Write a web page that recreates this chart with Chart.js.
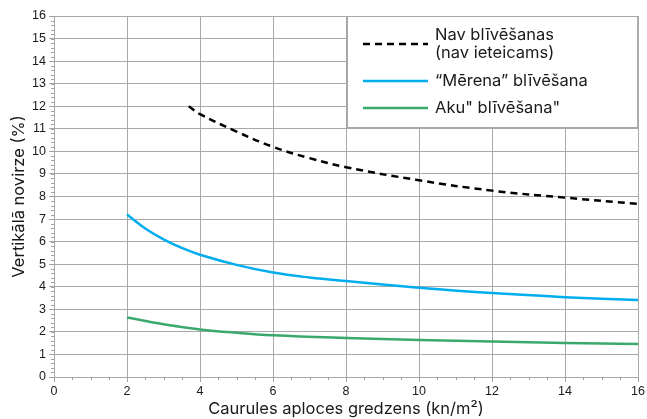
<!DOCTYPE html>
<html>
<head>
<meta charset="utf-8">
<script src="https://cdn.jsdelivr.net/npm/chart.js@4"></script>
<style>
  html, body { margin: 0; padding: 0; background: #fff; }
  #wrap { width: 647px; height: 419px; }
</style>
</head>
<body>
<div id="wrap"><canvas id="myChart"></canvas></div>
<script>
// values
const labels = ['Nav blīvēšanas\n(nav ieteicams)', '“Mērena” blīvēšana', 'Aku" blīvēšana"'];
const xNone = [3.69, 4, 5, 6, 7, 8, 10, 12, 14, 16];
const yNone = [12.0, 11.65, 10.88, 10.2, 9.7, 9.3, 8.72, 8.26, 7.95, 7.67];
const xMid = [2, 2.5, 3, 3.5, 4, 5, 6, 7, 8, 10, 12, 14, 16];
const yMid = [7.2, 6.58, 6.1, 5.72, 5.42, 4.97, 4.63, 4.41, 4.25, 3.96, 3.72, 3.54, 3.41];
const xFull = [2, 3, 4, 5, 6, 8, 10, 12, 14, 16];
const yFull = [2.64, 2.34, 2.11, 1.96, 1.85, 1.73, 1.64, 1.57, 1.51, 1.46];
const xTitle = 'Caurules aploces gredzens (kn/m²)';
const yTitle = 'Vertikālā novirze (%)';

function pts(xs, ys) {
    return xs.map((x, i) => ({ x: x, y: ys[i] }));
}

const gridCol = '#a8a8a8';
const titleFont = 'Inter, "Noto Sans", sans-serif';
const tickFont = '"Liberation Sans", Arial, sans-serif';

// small ticks between the labelled ones
const minorTicks = {
    id: 'minorTicks',
    afterDraw(chart) {
        const ctx = chart.ctx;
        const xs = chart.scales.x, ys = chart.scales.y;
        ctx.save();
        ctx.strokeStyle = '#a0a0a0';
        ctx.lineWidth = 1;
        ctx.beginPath();
        for (let v = 0; v <= 16.001; v += 0.2) {
            const py = Math.round(ys.getPixelForValue(v)) + 0.5;
            ctx.moveTo(xs.left - 3, py);
            ctx.lineTo(xs.left, py);
        }
        for (let v = 0; v <= 16.001; v += 0.5) {
            const px = Math.round(xs.getPixelForValue(v)) + 0.5;
            ctx.moveTo(px, ys.bottom);
            ctx.lineTo(px, ys.bottom + 3);
        }
        ctx.stroke();
        ctx.restore();
    }
};

// legend box inside the plot, top right
const boxLegend = {
    id: 'boxLegend',
    afterDraw(chart) {
        const ctx = chart.ctx;
        const area = chart.chartArea;
        const x0 = 347, y0 = area.top, x1 = area.right, y1 = 128;
        ctx.save();
        ctx.fillStyle = '#fff';
        ctx.fillRect(x0, y0, x1 - x0, y1 - y0);
        ctx.strokeStyle = gridCol;
        ctx.lineWidth = 1;
        ctx.strokeRect(x0 + 0.5, y0 + 0.5, x1 - x0 - 1, y1 - y0 - 1);
        const rows = [44, 81, 108];
        ctx.font = '16.5px ' + titleFont;
        ctx.textBaseline = 'middle';
        chart.data.datasets.forEach((ds, i) => {
            const y = rows[i];
            ctx.beginPath();
            ctx.strokeStyle = ds.borderColor;
            ctx.lineWidth = ds.borderWidth;
            ctx.setLineDash(ds.borderDash || []);
            ctx.moveTo(363, y);
            ctx.lineTo(428, y);
            ctx.stroke();
            ctx.setLineDash([]);
            ctx.fillStyle = '#1a1a1a';
            const lines = ds.label.split('\n');
            lines.forEach((t, j) => {
                const ty = y + (j - (lines.length - 1) / 2) * 18;
                ctx.fillText(t, 435, ty);
            });
        });
        ctx.restore();
    }
};

const chart = new Chart(document.getElementById('myChart').getContext('2d'), {
    type: 'line',
    data: {
        datasets: [{
            label: labels[0],
            data: pts(xNone, yNone),
            borderColor: '#000000',
            borderWidth: 2.5,
            borderDash: [7, 5],
            pointRadius: 0,
            tension: 0.4,
            fill: false
        }, {
            label: labels[1],
            data: pts(xMid, yMid),
            borderColor: '#00adef',
            borderWidth: 2.5,
            pointRadius: 0,
            tension: 0.4,
            fill: false
        }, {
            label: labels[2],
            data: pts(xFull, yFull),
            borderColor: '#3aaa6c',
            borderWidth: 2.5,
            pointRadius: 0,
            tension: 0.4,
            fill: false
        }]
    },
    options: {
        responsive: true,
        maintainAspectRatio: false,
        animation: false,
        layout: { padding: { top: 16, right: 8, left: 0, bottom: 0 } },
        plugins: {
            legend: { display: false },
            tooltip: { enabled: false }
        },
        scales: {
            x: {
                type: 'linear',
                min: 0,
                max: 16,
                ticks: {
                    stepSize: 2,
                    color: '#1a1a1a',
                    padding: 2,
                    font: { family: tickFont, size: 12.5 }
                },
                grid: { color: gridCol, tickLength: 5 },
                border: { color: gridCol },
                title: {
                    display: true,
                    text: xTitle,
                    color: '#1a1a1a',
                    padding: { top: 0, bottom: 0 },
                    font: { family: titleFont, size: 16.5 }
                },
                afterFit(scale) { scale.height = 42; }
            },
            y: {
                min: 0,
                max: 16,
                ticks: {
                    stepSize: 1,
                    color: '#1a1a1a',
                    padding: 3,
                    font: { family: tickFont, size: 12.5 }
                },
                grid: { color: gridCol, tickLength: 5 },
                border: { color: gridCol },
                title: {
                    display: true,
                    text: yTitle,
                    color: '#1a1a1a',
                    padding: { top: 9, bottom: 0 },
                    font: { family: titleFont, size: 16.5 }
                },
                afterFit(scale) { scale.width = 54; }
            }
        }
    },
    plugins: [minorTicks, boxLegend]
});
</script>
</body>
</html>
